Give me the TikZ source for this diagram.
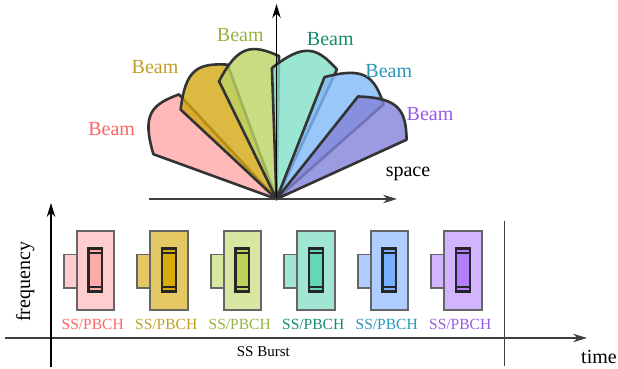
\documentclass[tikz,border=0pt]{standalone}
\usepackage{fontspec}
\setmainfont{Liberation Serif}
\usetikzlibrary{arrows.meta}
% fan colours
\definecolor{fan1}{RGB}{255,168,168}
\definecolor{fan2}{RGB}{211,167,18}
\definecolor{fan3}{RGB}{186,211,99}
\definecolor{fan4}{RGB}{129,224,199}
\definecolor{fan5}{RGB}{129,185,249}
\definecolor{fan6}{RGB}{130,130,217}
% text colours
\definecolor{tx1}{RGB}{255,100,100}
\definecolor{tx2}{RGB}{190,160,40}
\definecolor{tx3}{RGB}{150,180,60}
\definecolor{tx4}{RGB}{20,140,110}
\definecolor{tx5}{RGB}{40,150,190}
\definecolor{tx6}{RGB}{150,90,230}
% box colours
\definecolor{bx1}{RGB}{255,205,205}
\definecolor{bx2}{RGB}{228,200,100}
\definecolor{bx3}{RGB}{215,230,160}
\definecolor{bx4}{RGB}{160,230,210}
\definecolor{bx5}{RGB}{175,205,255}
\definecolor{bx6}{RGB}{210,180,255}
\definecolor{in1}{RGB}{255,170,170}
\definecolor{in2}{RGB}{215,172,10}
\definecolor{in3}{RGB}{190,210,90}
\definecolor{in4}{RGB}{100,215,185}
\definecolor{in5}{RGB}{120,175,255}
\definecolor{in6}{RGB}{180,125,255}
\newcommand\fansector[2]{%
  \draw[sectorline, fill=#2] (0,0) -- ({#1+27}:131)
    .. controls ({#1+15}:159) and ({#1+10}:157) .. (#1:143) -- cycle;}
\begin{document}
\begin{tikzpicture}[x=1pt,y=-1pt,
  sectorline/.style={draw=black!80, line width=2.6pt, fill opacity=0.8, line join=round},
  axisline/.style={draw=black, line width=1.2pt, -{Stealth[length=14pt,width=8.5pt,inset=4.5pt]}},
  plainline/.style={draw=black!75, line width=1.2pt},
  bigbox/.style={draw=black!60, line width=1.8pt},
  innerbox/.style={draw=black!85, line width=2.2pt},
  beamlbl/.style={font=\fontsize{20}{22}\selectfont, anchor=base},
  axislbl/.style={font=\fontsize{20}{22}\selectfont, anchor=base},
  boxlbl/.style={font=\fontsize{15.5}{17}\selectfont, anchor=base}]
\useasboundingbox (0,0) rectangle (618,369);

% ---------- fan of beams ----------
\begin{scope}[shift={(276.5,199)}, yscale=-1]
  \fansector{133}{fan1}
  \fansector{110}{fan2}
  \fansector{89}{fan3}
  \fansector{65}{fan4}
  \fansector{41.5}{fan5}
  \fansector{24.5}{fan6}
\end{scope}
\coordinate (O) at (276.5,199);
\coordinate (yTop) at (276.5,4);
\coordinate (xL) at (149,199);
\coordinate (xR) at (397,199);
\draw[axisline] (O) -- (yTop);
\draw[axisline, draw=black!75] (xL) -- (xR);
\node[axislbl] (space) at (408,176) {space};

\node[beamlbl, text=tx1] (b1) at (111.7,135) {Beam};
\node[beamlbl, text=tx2] (b2) at (155,74) {Beam};
\node[beamlbl, text=tx3] (b3) at (240.3,41.7) {Beam};
\node[beamlbl, text=tx4] (b4) at (330.3,46) {Beam};
\node[beamlbl, text=tx5] (b5) at (388.8,77.3) {Beam};
\node[beamlbl, text=tx6] (b6) at (430,120.7) {Beam};

% ---------- time / frequency ----------
\coordinate (tL) at (5,338);
\coordinate (tR) at (587,338);
\coordinate (fB) at (51,367);
\coordinate (fT) at (51,203);
\coordinate (eT) at (504,221);
\coordinate (eB) at (504,366);
\draw[axisline, draw=black!75] (tL) -- (tR);
\draw[axisline] (fB) -- (fT);
\draw[plainline, line width=1pt] (eT) -- (eB);
\node[axislbl] (time) at (599,363) {time};
\node[axislbl, rotate=90] (freq) at (30,281.7) {frequency};
\node[font=\fontsize{15}{17}\selectfont, anchor=base] (burst) at (263.3,356) {SS Burst};

\foreach \i in {1,...,6}{
  \pgfmathsetmacro{\xo}{76.7+73.5*(\i-1)}
  \draw[bigbox, fill=bx\i] (\xo-13,254.5) rectangle (\xo,288);
  \draw[bigbox, fill=bx\i] (\xo,231) rectangle (\xo+37.5,310);
  \draw[innerbox, fill=in\i] (\xo+11.7,248.5) rectangle (\xo+25.5,291.5);
  \draw[innerbox, line width=1.5pt] (\xo+11.7,253) -- (\xo+25.5,253);
  \draw[innerbox, line width=1.5pt] (\xo+11.7,287) -- (\xo+25.5,287);
  \node[boxlbl, text=tx\i] (lbl\i) at (\xo+16,329) {SS/PBCH};
}
\end{tikzpicture}
\end{document}
